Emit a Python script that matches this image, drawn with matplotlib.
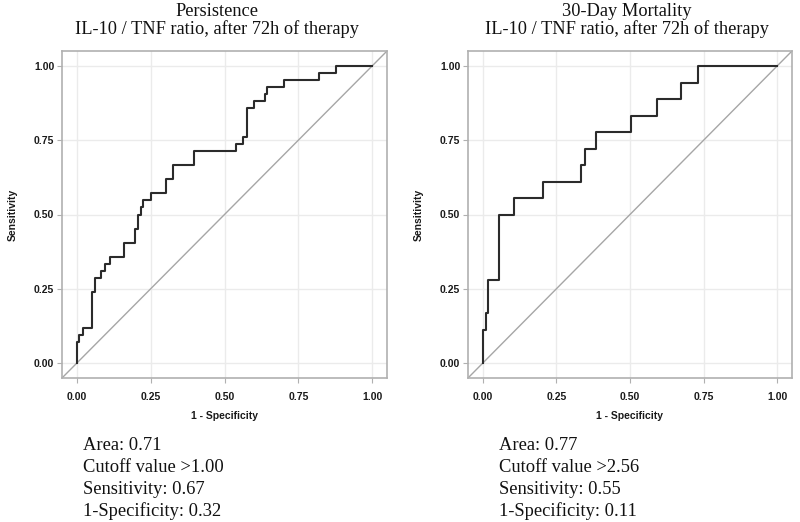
import matplotlib
matplotlib.use("Agg")
import matplotlib.pyplot as plt

# ---- data ----
ticks = [0.0, 0.25, 0.5, 0.75, 1.0]
tick_labels = ["0.00", "0.25", "0.50", "0.75", "1.00"]

titles = [("Persistence", "IL-10 / TNF ratio, after 72h of therapy"),
          ("30-Day Mortality", "IL-10 / TNF ratio, after 72h of therapy")]

pers_fpr = [0.0, 0.0, 0.006, 0.020, 0.051, 0.060, 0.081, 0.097, 0.112, 0.160,
            0.198, 0.208, 0.217, 0.225, 0.250, 0.302, 0.326, 0.396, 0.539,
            0.561, 0.575, 0.601, 0.636, 0.643, 0.700, 0.820, 0.879, 1.0]
pers_tpr = [0.0, 0.071, 0.095, 0.119, 0.238, 0.286, 0.310, 0.333, 0.357, 0.405,
            0.452, 0.500, 0.524, 0.548, 0.571, 0.619, 0.667, 0.714, 0.738,
            0.762, 0.857, 0.881, 0.905, 0.929, 0.952, 0.976, 1.0, 1.0]

mort_fpr = [0.0, 0.0, 0.010, 0.017, 0.056, 0.107, 0.205, 0.332, 0.346, 0.385,
            0.503, 0.593, 0.673, 0.730, 1.0]
mort_tpr = [0.0, 0.111, 0.167, 0.278, 0.500, 0.556, 0.611, 0.667, 0.722, 0.778,
            0.833, 0.889, 0.944, 1.0, 1.0]

stats = [["Area: 0.71", "Cutoff value >1.00", "Sensitivity: 0.67", "1-Specificity: 0.32"],
         ["Area: 0.77", "Cutoff value >2.56", "Sensitivity: 0.55", "1-Specificity: 0.11"]]

W, H = 800, 522
fig = plt.figure(figsize=(W / 100, H / 100), dpi=100)

serif = ["Liberation Serif", "DejaVu Serif"]
sans = ["Liberation Sans", "DejaVu Sans"]

# axes boxes in pixels: left, right, top, bottom
boxes = [(62, 387, 51, 378), (468, 792, 51, 378)]
title_cx = [217, 627]
text_x = [83, 499]
ylab_x = [13, 419]

curves = [(pers_fpr, pers_tpr), (mort_fpr, mort_tpr)]

for i in range(2):
    l, r, t, b = boxes[i]
    ax = fig.add_axes([l / W, 1 - b / H, (r - l) / W, (b - t) / H])
    ax.set_xlim(-0.05, 1.05)
    ax.set_ylim(-0.05, 1.05)
    ax.set_xticks(ticks)
    ax.set_xticklabels(tick_labels)
    ax.set_yticks(ticks)
    ax.set_yticklabels(tick_labels)
    ax.grid(True, color="#ebebeb", linewidth=1.0)
    ax.set_axisbelow(True)
    for sp in ax.spines.values():
        sp.set_color("#b0b0b0")
        sp.set_linewidth(1.2)
    ax.tick_params(length=3.5, width=0.8, color="#b0b0b0", pad=2,
                   labelsize=7.5, labelcolor="#1a1a1a")
    ax.tick_params(axis="x", pad=6.5)
    for lab in ax.get_xticklabels() + ax.get_yticklabels():
        lab.set_family(sans)
        lab.set_fontweight("bold")
    ax.axline((0, 0), (1, 1), color="#a6a6a6", linewidth=1.0, zorder=2)
    fx, fy = curves[i]
    ax.step(fx, fy, where="post", color="#2b2b2b", linewidth=1.5, zorder=3)

    fig.text((l + r) / 2 / W, 1 - 416 / H, "1 - Specificity", ha="center", va="center",
             family=sans, fontsize=7.5, fontweight="bold", color="#1a1a1a")
    fig.text(ylab_x[i] / W, 1 - 215 / H, "Sensitivity", ha="center", va="center",
             rotation=90, family=sans, fontsize=7.5, fontweight="bold", color="#1a1a1a")

    fig.text(title_cx[i] / W, 1 - 16 / H, titles[i][0], ha="center", va="baseline",
             family=serif, fontsize=13.2, color="#111111")
    fig.text(title_cx[i] / W, 1 - 34.5 / H, titles[i][1], ha="center", va="baseline",
             family=serif, fontsize=13.2, color="#111111")

    for j, s in enumerate(stats[i]):
        fig.text(text_x[i] / W, 1 - (450.5 + 21.7 * j) / H, s, ha="left", va="baseline",
                 family=serif, fontsize=13.3, color="#111111")

fig.savefig("out.png", dpi=100)
